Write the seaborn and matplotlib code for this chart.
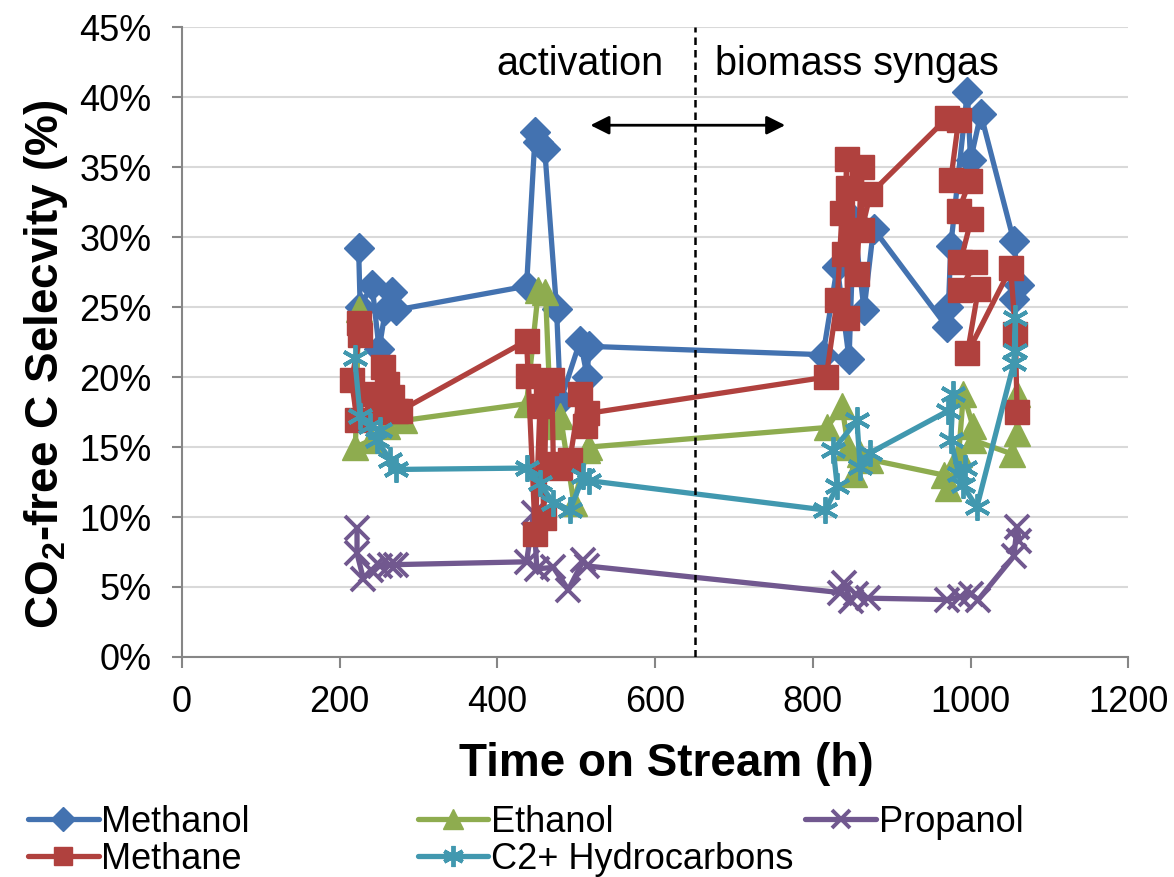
import numpy as np
import pandas as pd
import matplotlib
matplotlib.use("Agg")
import matplotlib.pyplot as plt
import seaborn as sns

# ---------------- data ----------------
methanol_t = [224, 226, 241, 250, 258, 266, 272, 437, 448, 452, 460, 475, 480,
              505, 514, 516, 813, 831, 846, 852, 865, 877, 970, 972, 975, 996,
              1000, 1013, 1055, 1061, 1055]
methanol_v = [29.2, 25.0, 26.6, 22.0, 24.8, 26.1, 24.8, 26.5, 37.5, 36.8, 36.3, 24.9, 18.3,
              22.6, 20.0, 22.2, 21.6, 27.9, 21.3, 31.2, 24.8, 30.6, 23.6, 25.0, 29.4, 40.4,
              35.5, 38.8, 29.7, 26.6, 25.6]

ethanol_t = [224, 220, 240, 260, 281, 437, 452, 461, 468, 480, 497, 514, 516,
             818, 837, 845, 852, 860, 873, 966, 972, 985, 991, 1003, 1003, 1053, 1059, 1059]
ethanol_v = [24.9, 15.0, 15.5, 16.5, 16.9, 18.1, 26.2, 26.1, 16.5, 17.2, 11.0, 14.8, 15.0,
             16.4, 17.9, 15.0, 13.1, 14.5, 14.1, 13.0, 12.1, 14.5, 18.8, 16.5, 15.5, 14.5, 16.0, 18.8]

propanol_t = [222, 222, 230, 240, 251, 264, 272, 437, 446, 450, 471, 490, 509, 514,
              835, 840, 848, 855, 870, 970, 987, 1000, 1010, 1055, 1059, 1062]
propanol_v = [9.2, 7.4, 5.6, 6.2, 6.5, 6.6, 6.6, 6.8, 10.3, 6.3, 6.4, 4.8, 6.9, 6.5,
              4.6, 5.3, 4.0, 4.5, 4.2, 4.1, 4.3, 4.5, 4.1, 7.2, 9.3, 8.3]

methane_t = [224, 226, 215, 222, 232, 247, 255, 260, 266, 272, 277,
             437, 439, 448, 454, 459, 462, 469, 471, 480, 492, 505, 511, 514,
             817, 831, 837, 839, 843, 844, 845, 856, 862, 862, 873,
             970, 985, 975, 999, 985, 1001, 987, 1006, 987, 1010, 996, 1051, 1057, 1059]
methane_v = [23.9, 23.0, 19.8, 16.9, 18.8, 17.5, 20.7, 19.5, 18.6, 17.6, 17.6,
             22.6, 20.1, 8.8, 17.9, 9.9, 19.6, 19.8, 13.8, 13.5, 14.1, 18.8, 16.5, 17.4,
             20.0, 25.5, 31.7, 28.8, 35.6, 24.2, 33.5, 27.4, 35.0, 30.5, 33.1,
             38.5, 38.4, 34.1, 34.0, 31.9, 31.3, 28.2, 28.2, 26.2, 26.3, 21.7, 27.8, 23.1, 17.5]

c2_t = [219, 226, 239, 251, 247, 264, 272, 437, 454, 471, 492, 509, 516,
        816, 831, 826, 856, 860, 873, 972, 978, 975, 985, 993, 990, 1008, 1055, 1057, 1057]
c2_v = [21.4, 17.2, 16.5, 16.2, 15.5, 14.1, 13.4, 13.5, 12.4, 11.0, 10.5, 12.9, 12.6,
        10.5, 12.2, 14.8, 16.9, 13.6, 14.6, 17.6, 18.8, 15.5, 13.1, 13.5, 12.3, 10.7, 21.0, 24.2, 21.9]

y_ticks = [0, 5, 10, 15, 20, 25, 30, 35, 40, 45]
x_ticks = [0, 200, 400, 600, 800, 1000, 1200]
switch_time = 650

# ---------------- styling ----------------
sns.set_theme(style="white")
plt.rcParams['font.family'] = ['Liberation Sans', 'DejaVu Sans']
plt.rcParams['mathtext.fontset'] = 'custom'
plt.rcParams['mathtext.rm'] = 'Liberation Sans'
plt.rcParams['mathtext.bf'] = 'Liberation Sans:bold'
for k in ['text.color', 'axes.labelcolor', 'xtick.color', 'ytick.color']:
    plt.rcParams[k] = 'black'

fig = plt.figure(figsize=(11.74, 8.77), dpi=100)
ax = fig.add_axes([0.155, 0.2509, 0.806, 0.718])

FS = 26
series = [
    ("Methanol", methanol_t, methanol_v, "#4372B0", "D", 15),
    ("Ethanol", ethanol_t, ethanol_v, "#8EAC4F", "^", 18.5),
    ("Propanol", propanol_t, propanol_v, "#71588F", "x", 17),
    ("Methane", methane_t, methane_v, "#B0413E", "s", 17),
    ("C2+ Hydrocarbons", c2_t, c2_v, "#4198AF", (6, 2, 0), 19),
]

for name, t, v, col, mk, ms in series:
    df = pd.DataFrame({"t": t, "v": v})
    sns.lineplot(data=df, x="t", y="v", sort=False, estimator=None, ax=ax,
                 color=col, lw=3.8, marker=mk, markersize=ms,
                 markeredgecolor=col, markerfacecolor=col,
                 markeredgewidth=2.8 if mk in ("x", (6, 2, 0)) else 1,
                 label=name, zorder=3)

handles, labels = ax.get_legend_handles_labels()
if ax.get_legend() is not None:
    ax.get_legend().remove()

# dashed separator
ax.axvline(switch_time, ymin=0, ymax=1, color="black", ls=(0, (3, 2)), lw=1.8, zorder=4)

# annotations
ax.text(505, 42.4, "activation", ha="center", va="center", fontsize=28.5)
ax.text(856, 42.4, "biomass syngas", ha="center", va="center", fontsize=28.5)
ax.annotate("", xy=(518, 38.0), xytext=(765, 38.0),
            arrowprops=dict(arrowstyle="<|-|>", color="black", lw=2.0,
                            mutation_scale=28, shrinkA=0, shrinkB=0), zorder=5)

ax.set_xlim(0, 1200)
ax.set_ylim(0, 45)
ax.set_xticks(x_ticks)
ax.set_yticks(y_ticks)
ax.set_yticklabels([f"{y}%" for y in y_ticks])
ax.yaxis.grid(True, color="#D9D9D9", lw=1.5, zorder=0)
ax.xaxis.grid(False)
ax.set_axisbelow(True)
for s in ["top", "right"]:
    ax.spines[s].set_visible(False)
for s in ["left", "bottom"]:
    ax.spines[s].set_color("#868686")
    ax.spines[s].set_linewidth(1.5)
ax.tick_params(axis="both", labelsize=FS, labelcolor="black")
ax.tick_params(axis="x", direction="out", length=8, width=1.5, color="#868686", pad=12, bottom=True)
ax.tick_params(axis="y", direction="out", length=7, width=1.5, color="#868686", pad=15, left=True)

ax.set_xlabel("Time on Stream (h)", fontsize=33, fontweight="bold", labelpad=22)
ax.set_ylabel(r"CO$_\mathbf{2}$-free C Selecvity (%)", fontsize=33, fontweight="bold", labelpad=10)
ax.xaxis.set_label_coords(0.512, -0.135)
ax.yaxis.set_label_coords(-0.118, 0.465)

# legend, three columns laid out like the reference
cols = [([0, 3], 0.024), ([1, 4], 0.356), ([2], 0.686)]
for idx, xpos in cols:
    leg = fig.legend([handles[i] for i in idx], [labels[i] for i in idx],
                     loc="upper left", bbox_to_anchor=(xpos, 0.082), frameon=False,
                     fontsize=FS, handlelength=1.95, handletextpad=0.08,
                     labelspacing=0.05, borderpad=0, borderaxespad=0, markerscale=0.8)

fig.savefig("out.png", dpi=100)
